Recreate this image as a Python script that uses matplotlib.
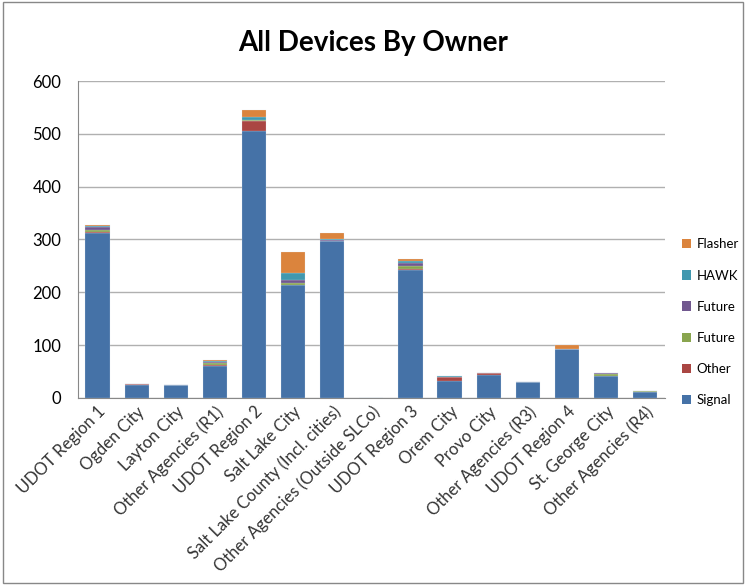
import matplotlib

matplotlib.use("Agg")

import matplotlib.pyplot as plt
import numpy as np
from matplotlib.patches import Patch, Rectangle

plt.rcParams["font.family"] = ["Lato", "DejaVu Sans"]

owners = [
    "UDOT Region 1",
    "Ogden City",
    "Layton City",
    "Other Agencies (R1)",
    "UDOT Region 2",
    "Salt Lake City",
    "Salt Lake County (Incl. cities)",
    "Other Agencies (Outside SLCo)",
    "UDOT Region 3",
    "Orem City",
    "Provo City",
    "Other Agencies (R3)",
    "UDOT Region 4",
    "St. George City",
    "Other Agencies (R4)",
]

signal = [312, 25, 24, 61, 505, 213, 297, 0, 243, 32, 44, 31, 92, 42, 12]
other = [2, 1, 0, 1, 19, 1, 0, 0, 1, 8, 3, 0, 0, 0, 0]
future_green = [4, 0, 0, 4, 2, 4, 0, 0, 6, 0, 0, 0, 0, 3, 1]
future_purple = [6, 0, 0, 3, 1, 5, 2, 0, 6, 0, 1, 0, 0, 3, 1]
hawk = [2, 0, 0, 1, 5, 14, 2, 0, 3, 2, 0, 0, 0, 0, 0]
flasher = [2, 0, 0, 2, 14, 39, 11, 0, 5, 0, 0, 0, 9, 0, 0]

series = [
    ("Signal", signal, "#4572A7"),
    ("Other", other, "#AA4643"),
    ("Future", future_green, "#89A54E"),
    ("Future", future_purple, "#71588F"),
    ("HAWK", hawk, "#4198AF"),
    ("Flasher", flasher, "#DB843D"),
]

fig = plt.figure(figsize=(7.46, 5.87), dpi=100)
fig.patches.append(
    Rectangle((0.004, 0.006), 0.992, 0.99, transform=fig.transFigure,
              fill=False, edgecolor="#888888", linewidth=1.0)
)
ax = fig.add_axes([0.1046, 0.322, 0.7864, 0.540])

x = np.arange(len(owners))
bottom = np.zeros(len(owners))
handles = []
for name, vals, color in series:
    vals = np.array(vals, dtype=float)
    ax.bar(x, vals, width=0.62, bottom=bottom, color=color,
           edgecolor="#dfe6ef", linewidth=0.15, zorder=3)
    bottom += vals
    handles.append(Patch(facecolor=color, label=name))

ax.set_xlim(-0.5, len(owners) - 0.5)
ax.set_ylim(0, 600)
ax.set_yticks(range(0, 601, 100))
ax.yaxis.grid(True, color="#b0b0b0", linewidth=1.0, zorder=0)
ax.set_axisbelow(True)
for side in ["top", "right"]:
    ax.spines[side].set_visible(False)
ax.spines["left"].set_color("#888888")
ax.spines["bottom"].set_color("#888888")
ax.tick_params(axis="y", length=0, labelsize=12, pad=12)
ax.tick_params(axis="x", length=0, pad=4)
ax.set_xticks(x)
ax.set_xticklabels(owners, rotation=45, ha="right", rotation_mode="anchor",
                   fontsize=12, color="#333333")

fig.text(0.5, 0.927, "All Devices By Owner", ha="center", va="center",
         fontsize=20, fontweight="bold")

fig.legend(handles[::-1], [h.get_label() for h in handles[::-1]],
           loc="center left", bbox_to_anchor=(0.898, 0.451), frameon=False,
           fontsize=9.5, labelspacing=1.45, handlelength=0.7, handleheight=0.7,
           handletextpad=0.4)

fig.savefig("out.png", dpi=100, facecolor="white")
